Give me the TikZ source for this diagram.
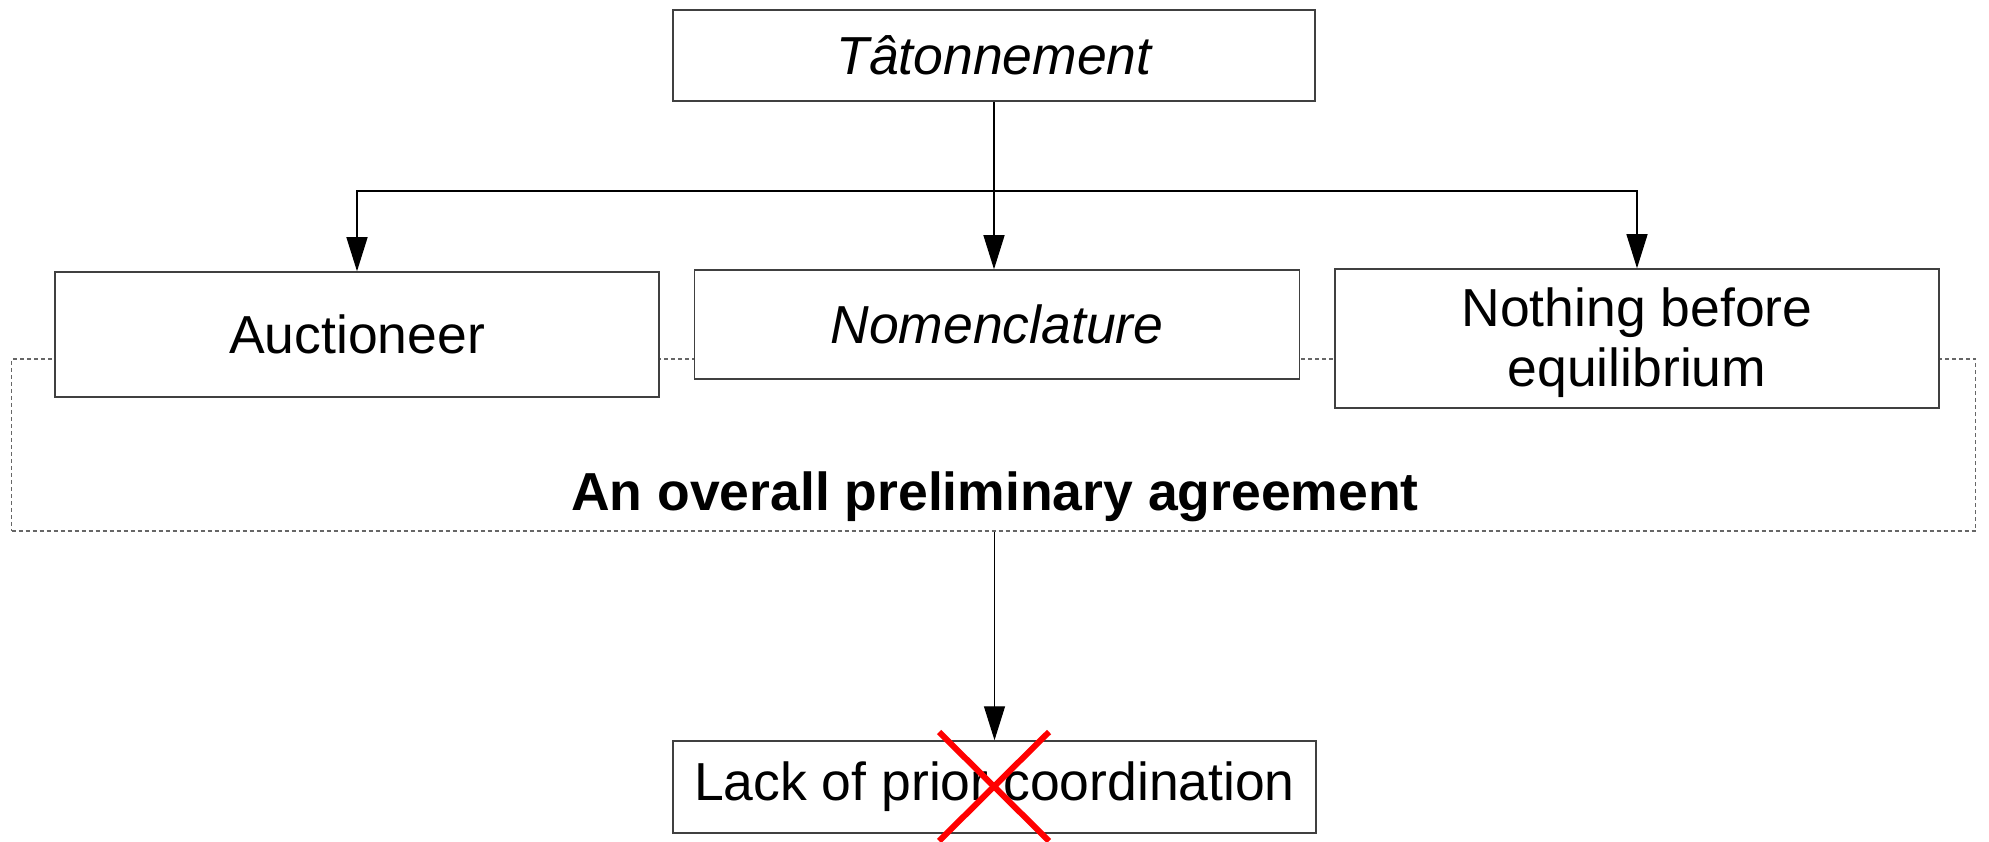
\documentclass[tikz,border=0pt]{standalone}
\usepackage{fontspec}
\setmainfont{Liberation Sans}
\usetikzlibrary{arrows.meta}
\newcommand\diagfont{\fontsize{53.5}{60}\selectfont}
\begin{document}
\begin{tikzpicture}[x=1pt,y=-1pt,
  box/.style={draw=black!75, line width=1.5pt, fill=white, inner sep=0pt, font=\diagfont},
  conn/.style={draw=black, line width=1.3pt},
  arr/.style={conn, -{Triangle[length=34pt,width=21pt]}},
  groupbox/.style={draw=black!60, line width=1.3pt, dash pattern=on 4pt off 3pt, inner sep=0pt},
  cross/.style={draw=red, line width=6pt}
]
\useasboundingbox (0,0) rectangle (1989,842);

% dotted group box (behind the boxes)
\node[groupbox, minimum width=1964pt, minimum height=172pt] (agree) at (993.6,445) {};
\node[font=\diagfont\bfseries, anchor=base, inner sep=0pt] (agtext) at (995,510) {An overall preliminary agreement};

% boxes
\node[box, minimum width=642pt, minimum height=91pt, font=\diagfont\itshape] (tat) at (994,55.5) {Tâtonnement};
\node[box, minimum width=604pt, minimum height=125pt] (auc) at (357,334.5) {Auctioneer};
\node[box, minimum width=605pt, minimum height=109pt, font=\diagfont\itshape] (nom) at (997,324.5) {Nomenclature};
\node[box, minimum width=604pt, minimum height=139pt, align=center] (noth) at (1637,338.5) {\rule{0pt}{48pt}Nothing before\\equilibrium};
\node[box, minimum width=643pt, minimum height=92pt] (lack) at (994.5,787) {Lack of prior coordination};

% connectors
\coordinate (j) at (994,191);
\draw[arr] (tat.south -| j) -- (j |- nom.north);
\draw[arr] (j) -| (auc.north);
\draw[arr] (j) -| (noth.north);
\draw[arr] (agree.south -| lack.north) -- (lack.north);

% red cross
\draw[cross] (939,732) -- (1049,841) (1049,732) -- (939,841);
\end{tikzpicture}
\end{document}
